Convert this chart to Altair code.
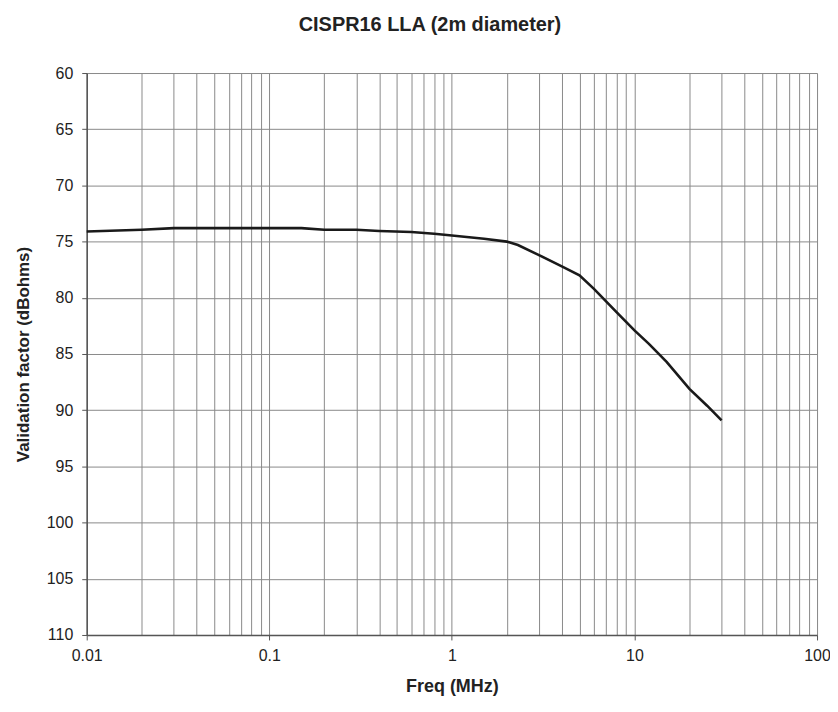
import altair as alt
import pandas as pd

freq_mhz = [0.01, 0.02, 0.03, 0.05, 0.1, 0.15, 0.2, 0.3, 0.4, 0.6, 0.8, 1, 1.5, 2, 2.3,
            3, 4, 5, 6, 8, 10, 12, 15, 20, 25, 30]
factor_db = [74.1, 73.95, 73.8, 73.8, 73.8, 73.8, 73.95, 73.95, 74.05, 74.15, 74.3, 74.45,
             74.75, 75.0, 75.3, 76.2, 77.2, 78.0, 79.2, 81.3, 82.9, 84.1, 85.7, 88.1, 89.6, 90.9]

x_grid_values = [m * 10.0 ** e for e in range(-2, 2) for m in range(1, 10)] + [100]
x_label_values = ["0.01", "0.1", "1", "10", "100"]
y_values = list(range(60, 111, 5))

df = pd.DataFrame({"freq": freq_mhz, "factor": factor_db})

FONT = "Liberation Sans"
decade_test = "abs(log(datum.value)/LN10 - round(log(datum.value)/LN10)) < 0.000001"

x_axis = alt.Axis(
    values=x_grid_values,
    labelExpr="indexof(" + str(x_label_values) + ", datum.label) >= 0 ? datum.label : ''",
    format="~g",
    grid=True, gridColor="#8a8a8a", gridWidth=1,
    tickOpacity={"condition": {"test": decade_test, "value": 1}, "value": 0},
    tickColor="#555", tickSize=5,
    domainColor="#555", domainWidth=1.5,
    labelFont=FONT, labelFontSize=16, labelColor="#222", labelPadding=8,
    labelFlush=False, labelOverlap=False,
    title="Freq  (MHz)", titleFont=FONT, titleFontSize=18, titleFontWeight="bold",
    titleColor="#222", titleY=52, titleBaseline="middle",
)

y_axis = alt.Axis(
    values=y_values,
    grid=True, gridColor="#8a8a8a", gridWidth=1,
    tickColor="#555", tickSize=5,
    domainColor="#555", domainWidth=1.5,
    labelFont=FONT, labelFontSize=16, labelColor="#222", labelPadding=9,
    title="Validation factor (dBohms)", titleFont=FONT, titleFontSize=17,
    titleFontWeight="bold", titleColor="#222",
    titleX=-63, titleY=282, titleAngle=-90, titleBaseline="middle",
)

chart = (
    alt.Chart(df)
    .mark_line(color="#1a1a1a", strokeWidth=2.6)
    .encode(
        x=alt.X("freq:Q", scale=alt.Scale(type="log", domain=[0.01, 100], nice=False), axis=x_axis),
        y=alt.Y("factor:Q", scale=alt.Scale(domain=[60, 110], reverse=True, nice=False, zero=False), axis=y_axis),
    )
    .properties(
        width=733,
        height=564,
        title=alt.TitleParams(
            "CISPR16 LLA (2m diameter)", font=FONT, fontSize=20, fontWeight="bold",
            color="#222", anchor="middle", dx=-22, offset=30,
        ),
        autosize=alt.AutoSizeParams(type="none"),
        padding={"left": 79, "top": 64, "right": 13, "bottom": 62},
    )
    .configure_view(stroke="#555", strokeWidth=1.5)
    .configure(background="white")
)

chart.save("out.html", embed_options={"renderer": "svg", "actions": False})
